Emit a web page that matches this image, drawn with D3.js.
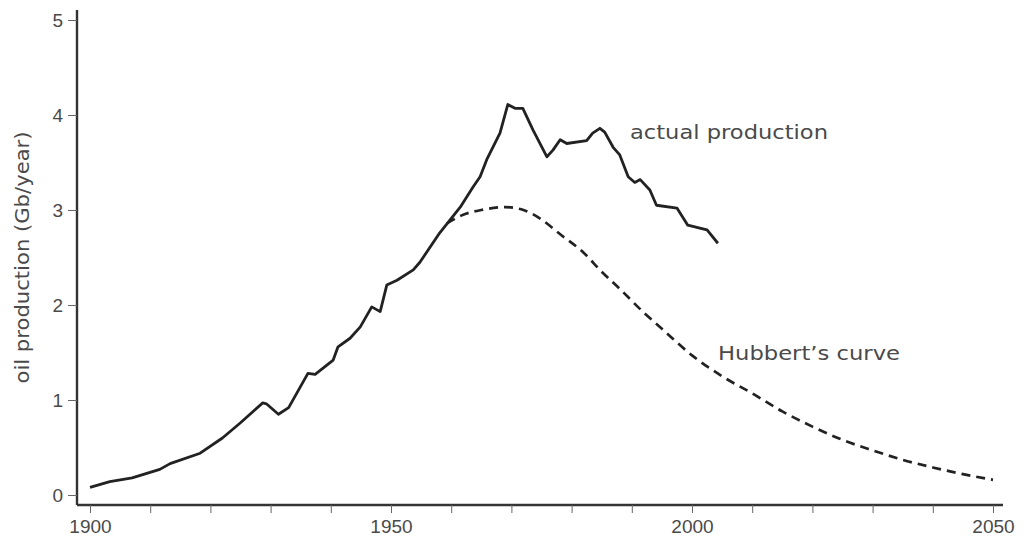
<!DOCTYPE html>
<html>
<head>
<meta charset="utf-8">
<script src="https://cdn.jsdelivr.net/npm/d3@7"></script>
<style>
  html, body { margin: 0; padding: 0; background: #fff; }
  svg { display: block; }
  text { font-family: "DejaVu Sans", "Liberation Sans", sans-serif; }
</style>
</head>
<body>
<svg id="chart" width="1026" height="540"></svg>
<script>
// ---- data ----
const actualYears = [1900, 1903.3, 1907, 1911.6, 1913.3, 1918.3, 1922, 1925, 1928.7, 1929.3, 1931.3, 1933,
  1936.2, 1937.4, 1939.4, 1940.4, 1941.2, 1943.2, 1944.9, 1946.8, 1948.2, 1949.3, 1951, 1953.7, 1954.8,
  1958.1, 1961.5, 1963.6, 1964.8, 1965.9, 1968.1, 1969.4, 1970.6, 1971.9, 1973.6, 1975.9, 1976.9, 1978.1,
  1979.2, 1982.5, 1983.5, 1984.7, 1985.5, 1986.9, 1988, 1989.4, 1990.5, 1991.4, 1993, 1994.1, 1997.5,
  1999.3, 2001.3, 2002.5, 2004.3];
const actualValues = [0.08, 0.14, 0.18, 0.27, 0.33, 0.44, 0.6, 0.76, 0.97, 0.96, 0.85, 0.92,
  1.28, 1.27, 1.37, 1.42, 1.56, 1.65, 1.77, 1.98, 1.93, 2.21, 2.26, 2.37, 2.45,
  2.76, 3.03, 3.24, 3.35, 3.53, 3.81, 4.11, 4.07, 4.07, 3.84, 3.56, 3.63, 3.74,
  3.70, 3.73, 3.81, 3.86, 3.82, 3.66, 3.58, 3.35, 3.29, 3.32, 3.21, 3.05, 3.02,
  2.84, 2.81, 2.79, 2.65];

const hubbertYears = [1959.3, 1962, 1965, 1969, 1972, 1975, 1978, 1982, 1985, 1988, 1992, 1995,
  2000, 2005, 2010, 2015, 2020, 2025, 2030, 2035, 2040, 2045, 2050];
const hubbertValues = [2.86, 2.95, 3.0, 3.03, 3.0, 2.9, 2.75, 2.55, 2.35, 2.17, 1.92, 1.75,
  1.47, 1.25, 1.07, 0.88, 0.72, 0.58, 0.47, 0.37, 0.29, 0.22, 0.16];

const xTicks = [1900, 1910, 1920, 1930, 1940, 1950, 1960, 1970, 1980, 1990, 2000, 2010, 2020, 2030, 2040, 2050];
const xTickLabels = [1900, 1950, 2000, 2050];
const yTicks = [0, 1, 2, 3, 4, 5];

const yAxisTitle = "oil production (Gb/year)";
const actualLabel = "actual production";
const hubbertLabel = "Hubbert\u2019s curve";

// ---- layout ----
const svg = d3.select("#chart");
const x = d3.scaleLinear().domain([1900, 2050]).range([90, 993]);
const y = d3.scaleLinear().domain([0, 5]).range([495, 20]);
const axisX0 = 77;   // y-axis position
const axisY0 = 505;  // x-axis position
const axisColor = "#333";
const textColor = "#4a4a4a";

// x axis
const gx = svg.append("g")
  .attr("transform", `translate(0,${axisY0})`)
  .call(d3.axisBottom(x).tickValues(xTicks).tickSize(8).tickPadding(7)
    .tickFormat(d => xTickLabels.includes(d) ? String(d) : ""));
gx.select(".domain").attr("d", `M${axisX0},0H1003`).attr("stroke", axisColor).attr("stroke-width", 2.4);
gx.selectAll(".tick line").attr("stroke", "#666").attr("stroke-width", 1);
gx.selectAll(".tick text").attr("fill", textColor)
  .style("font-family", "'Liberation Sans', Arial, sans-serif").style("font-size", "19px");

// y axis
const gy = svg.append("g")
  .attr("transform", `translate(${axisX0},0)`)
  .call(d3.axisLeft(y).tickValues(yTicks).tickSize(9).tickPadding(5).tickFormat(d3.format("d")));
gy.select(".domain").attr("d", `M0,10V${axisY0}`).attr("stroke", axisColor).attr("stroke-width", 2.4);
gy.selectAll(".tick line").attr("stroke", "#666").attr("stroke-width", 1);
gy.selectAll(".tick text").attr("fill", textColor)
  .style("font-family", "'Liberation Sans', Arial, sans-serif").style("font-size", "19px");

// y axis title
svg.append("text")
  .attr("transform", `translate(29,${y(2.5)}) rotate(-90)`)
  .attr("text-anchor", "middle")
  .attr("fill", textColor)
  .attr("textLength", 252).attr("lengthAdjust", "spacingAndGlyphs")
  .style("font-size", "19px")
  .text(yAxisTitle);

// lines
const actualData = actualYears.map((yr, i) => [yr, actualValues[i]]);
const hubbertData = hubbertYears.map((yr, i) => [yr, hubbertValues[i]]);

svg.append("path")
  .datum(hubbertData)
  .attr("fill", "none")
  .attr("stroke", "#222")
  .attr("stroke-width", 2.7)
  .attr("stroke-dasharray", "9,6")
  .attr("d", d3.line().x(d => x(d[0])).y(d => y(d[1])).curve(d3.curveMonotoneX));

svg.append("path")
  .datum(actualData)
  .attr("fill", "none")
  .attr("stroke", "#222")
  .attr("stroke-width", 2.8)
  .attr("stroke-linejoin", "round")
  .attr("d", d3.line().x(d => x(d[0])).y(d => y(d[1])));

// labels
svg.append("text")
  .attr("x", 630).attr("y", 139)
  .attr("fill", textColor)
  .attr("textLength", 198).attr("lengthAdjust", "spacingAndGlyphs")
  .style("font-size", "20px")
  .text(actualLabel);

svg.append("text")
  .attr("x", 718).attr("y", 360)
  .attr("fill", textColor)
  .attr("textLength", 182).attr("lengthAdjust", "spacingAndGlyphs")
  .style("font-size", "20px")
  .text(hubbertLabel);
</script>
</body>
</html>
